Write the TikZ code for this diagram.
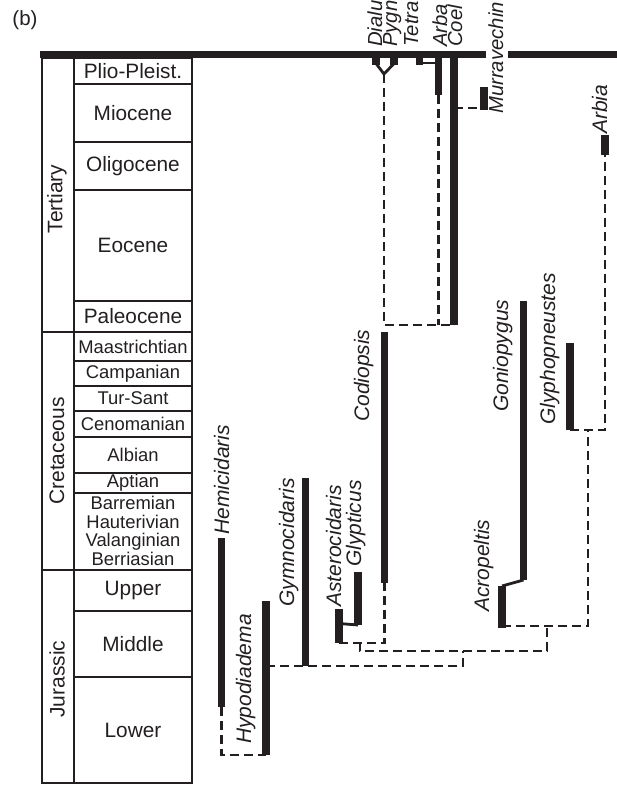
\documentclass[tikz,border=0pt]{standalone}
\usepackage{fontspec}
\setmainfont{Liberation Sans}
\definecolor{ink}{HTML}{231F20}
\begin{document}
\begin{tikzpicture}[x=1pt,y=-1pt,
  bar/.style={line width=7.5pt, draw=ink},
  thin/.style={line width=2.8pt, draw=ink},
  dline/.style={line width=2.7pt, draw=ink, dash pattern=on 9pt off 5pt},
  boxline/.style={line width=1.7pt, draw=ink},
  taxon/.style={rotate=90, anchor=base west, inner sep=0pt, text=ink,
    font=\fontsize{21}{21}\selectfont\itshape},
  toptaxon/.style={taxon, font=\fontsize{20.3}{21}\selectfont\itshape},
  period/.style={rotate=90, inner sep=0pt, text=ink, font=\fontsize{21}{21}\selectfont},
  epoch/.style={inner sep=0pt, text=ink, font=\fontsize{20.8}{21}\selectfont},
  stage/.style={inner sep=0pt, text=ink, align=center, font=\fontsize{18.4}{18.7}\selectfont}]
\useasboundingbox (0,0) rectangle (617,785);
\clip (0,0) rectangle (617,785);

% panel label
\node[inner sep=0pt, text=ink, font=\fontsize{20.5}{20.5}\selectfont] (lab) at (25,20) {(b)};

% top line
\draw[line width=7pt, ink] (40,54.5) -- (486,54.5);
\draw[line width=7pt, ink] (508,54.5) -- (617,54.5);

% time scale
\draw[boxline] (42,58) rectangle (192,783);
\draw[boxline] (74,58) -- (74,783);
\foreach \yy in {332,570} \draw[boxline] (42,\yy) -- (192,\yy);
\foreach \yy in {84,142,190,301,361,386,411,437,473,493,611,677} \draw[boxline] (74,\yy) -- (192,\yy);

\node[period] (ter) at (57,199) {Tertiary};
\node[period] (cre) at (57,451) {Cretaceous};
\node[period] (jur) at (57,679) {Jurassic};

\node[epoch] (e1) at (133,71) {Plio-Pleist.};
\node[epoch] (e2) at (133,113) {Miocene};
\node[epoch] (e3) at (133,166) {Oligocene};
\node[epoch] (e4) at (133,245.5) {Eocene};
\node[epoch] (e5) at (133,316.5) {Paleocene};
\node[stage] (s1) at (133,346.5) {Maastrichtian};
\node[stage] (s2) at (133,373.5) {Campanian};
\node[stage] (s3) at (133,398.5) {Tur-Sant};
\node[stage] (s4) at (133,424) {Cenomanian};
\node[stage] (s5) at (133,455) {Albian};
\node[stage] (s6) at (133,483) {Aptian};
\node[stage] (s7) at (133,531) {Barremian\\Hauterivian\\Valanginian\\Berriasian};
\node[epoch] (j1) at (133,590.5) {Upper};
\node[epoch] (j2) at (133,644) {Middle};
\node[epoch] (j3) at (133,730) {Lower};

% coordinates
\coordinate (hemT) at (221.5,538); \coordinate (hemB) at (221.5,707);
\coordinate (hypT) at (266,601);   \coordinate (hypB) at (266,755);
\coordinate (hypN) at (266,666);
\coordinate (gymT) at (305.5,478); \coordinate (gymB) at (305.5,666);
\coordinate (astT) at (339,609);   \coordinate (astB) at (339,643);
\coordinate (astJ) at (339,623.5);
\coordinate (glyT) at (358,572);   \coordinate (glyB) at (358,625);
\coordinate (codT) at (384.5,332); \coordinate (codB) at (384.5,583);
\coordinate (nAG) at (360,642);    \coordinate (nAGb) at (360,651);
\coordinate (n1) at (463,651);
\coordinate (gonT) at (523.5,301); \coordinate (gonB) at (523.5,580);
\coordinate (acrT) at (502,586);   \coordinate (acrB) at (502,628);
\coordinate (acrN) at (502,626);
\coordinate (n3) at (547,626);
\coordinate (gphT) at (570,343);   \coordinate (gphB) at (570,430);
\coordinate (n4) at (588,430);
\coordinate (arbT) at (605,135);   \coordinate (arbB) at (605,155);
\coordinate (coeT) at (454,58);    \coordinate (coeB) at (454,325);
\coordinate (abaT) at (438.5,58);  \coordinate (abaB) at (438.5,95);
\coordinate (murT) at (484,87);    \coordinate (murB) at (484,110);
\coordinate (murN) at (484,108);   \coordinate (coeN) at (454,108);
\coordinate (vL) at (376,63.5);    \coordinate (vR) at (394,63.5);
\coordinate (vN) at (384,74);      \coordinate (topN) at (384,325);
\coordinate (abaN) at (438.5,325);
\coordinate (tetJ) at (419.5,63);  \coordinate (abaJ) at (438.5,63);

% bars
\draw[bar] (hemT) -- (hemB);
\draw[bar] (hypT) -- (hypB);
\draw[bar] (gymT) -- (gymB);
\draw[bar] (astT) -- (astB);
\draw[bar] (glyT) -- (glyB);
\draw[bar] (codT) -- (codB);
\draw[bar] (gonT) -- (gonB);
\draw[bar] (acrT) -- (acrB);
\draw[bar] (gphT) -- (gphB);
\draw[bar] (arbT) -- (arbB);
\draw[bar] (coeT) -- (coeB);
\draw[bar] (abaT) -- (abaB);
\draw[bar] (murT) -- (murB);
\fill[ink] (372,58) rectangle (379.5,65);
\fill[ink] (390,58) rectangle (398,65);
\fill[ink] (416,58) rectangle (423,65);

% thin solid links
\draw[thin] (astJ) -- (glyB);
\draw[thin] (gonB) -- (acrT);
\draw[thin] (vL) -- (vN) -- (vR);
\draw[thin] (tetJ) -- (abaJ);

% dashed links
\draw[dline] (hemB) |- (hypB);
\draw[dline] (hypN) -| (n1);
\draw[dline] (astB) -| (codB);
\draw[dline] (nAG) -- (nAGb) -| (n3);
\draw[dline] (acrN) -| (n4);
\draw[dline] (gphB) -| (arbB);
\draw[dline] (vN) -- (topN) -- (coeB);
\draw[dline] (abaB) -- (abaN);
\draw[dline] (coeN) -- (murN);

% taxon labels
\node[taxon] (tHem) at (229,535) {Hemicidaris};
\node[taxon] (tHyp) at (251,744) {Hypodiadema};
\node[taxon] (tGym) at (294,607) {Gymnocidaris};
\node[taxon] (tAst) at (341,607) {Asterocidaris};
\node[taxon] (tGly) at (361,567) {Glypticus};
\node[taxon] (tCod) at (369,422) {Codiopsis};
\node[taxon] (tAcr) at (489,612) {Acropeltis};
\node[taxon] (tGon) at (508,412) {Goniopygus};
\node[taxon] (tGph) at (555,425) {Glyphopneustes};
\node[taxon] (tArb) at (607,134) {Arbia};
\node[toptaxon] (tMur) at (503,114) {Murravechin};
\node[toptaxon] (tDia) at (382,47) {Dialu};
\node[toptaxon] (tPyg) at (397,47) {Pygn};
\node[toptaxon] (tTet) at (418,47) {Tetra};
\node[toptaxon] (tAba) at (447,47) {Arba};
\node[toptaxon] (tCoe) at (462,47) {Coel};
\end{tikzpicture}
\end{document}
